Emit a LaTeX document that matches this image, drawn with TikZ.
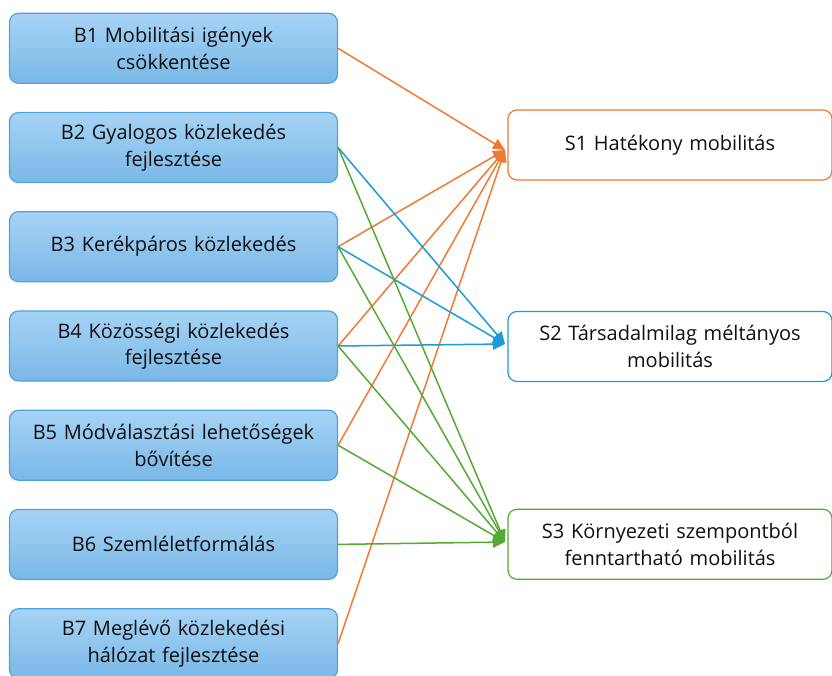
\documentclass[tikz,border=0pt]{standalone}
\usepackage{fontspec}
\setmainfont{Open Sans}
\usetikzlibrary{arrows.meta}
\definecolor{lbfill1}{HTML}{A6D3F5}
\definecolor{lbfill2}{HTML}{7AB8E7}
\definecolor{lbedge}{HTML}{4FA3DC}
\definecolor{corange}{HTML}{EE7A36}
\definecolor{cblue}{HTML}{1A9CD8}
\definecolor{cgreen}{HTML}{55AA35}
\definecolor{txt}{HTML}{101010}
\tikzset{
  measure/.style={draw=lbedge, line width=1.2pt, rounded corners=9pt,
    top color=lbfill1, bottom color=lbfill2,
    minimum width=328pt, minimum height=70pt, inner sep=0pt,
    text width=320pt, align=center, font=\fontsize{20}{26.5}\selectfont, text=txt},
  goal/.style={draw=#1, fill=white, line width=1.2pt, rounded corners=9pt,
    minimum width=324pt, minimum height=70pt, inner sep=0pt,
    text width=320pt, align=center, font=\fontsize{20}{26.5}\selectfont, text=txt},
  link/.style={draw=#1, line width=1.5pt,
    -{Triangle[length=12pt,width=11pt,fill=#1]}},
}
\begin{document}
\begin{tikzpicture}[x=1pt,y=-1pt]
  \useasboundingbox (0,0) rectangle (832,676);
  % left column: measures
  \node[measure] (b1) at (173.5,48.3)  {B1 Mobilitási igények\\csökkentése};
  \node[measure] (b2) at (173.5,147.5) {B2 Gyalogos közlekedés\\fejlesztése};
  \node[measure] (b3) at (173.5,246.7) {B3 Kerékpáros közlekedés};
  \node[measure] (b4) at (173.5,346)   {B4 Közösségi közlekedés\\fejlesztése};
  \node[measure] (b5) at (173.5,445.2) {B5 Módválasztási lehetőségek\\bővítése};
  \node[measure] (b6) at (173.5,544.4) {B6 Szemléletformálás};
  \node[measure] (b7) at (173.5,643.7) {B7 Meglévő közlekedési\\hálózat fejlesztése};
  % right column: goals
  \node[goal=corange] (s1) at (670,145)   {S1 Hatékony mobilitás};
  \node[goal=cblue]   (s2) at (670,346.5) {S2 Társadalmilag méltányos\\mobilitás};
  \node[goal=cgreen]  (s3) at (670,544.3) {S3 Környezeti szempontból\\fenntartható mobilitás};
  % arrow targets just left of the goal boxes
  \coordinate (t1) at (505,150);
  \coordinate (t2) at (505,344);
  \coordinate (t3) at (505,542);
  % S1 links
  \foreach \b in {b1,b3,b4,b5,b7}
    \draw[link=corange] (\b.east) -- (t1);
  % S2 links
  \foreach \b in {b2,b3,b4}
    \draw[link=cblue] (\b.east) -- (t2);
  % S3 links
  \foreach \b in {b2,b3,b4,b5,b6}
    \draw[link=cgreen] (\b.east) -- (t3);
\end{tikzpicture}
\end{document}
